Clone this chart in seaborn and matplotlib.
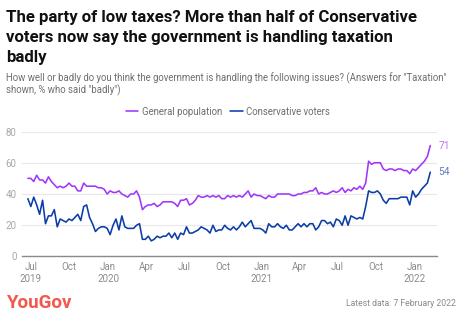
import matplotlib
matplotlib.use("Agg")
import matplotlib.pyplot as plt
import seaborn as sns
import pandas as pd

# Weekly survey waves, 24 June 2019 to 7 February 2022
start_date = "2019-06-24"
n_waves = 138

general_population = [
    50, 50, 48, 52, 49, 49, 47, 51, 48, 46,
    44, 45, 44, 45, 47, 45, 45, 42, 42, 47,
    45, 45, 45, 45, 44, 44, 43, 40, 42, 41,
    41, 42, 40, 39, 38, 40, 40, 42, 38, 30,
    32, 33, 33, 34, 32, 33, 35, 35, 35, 35,
    34, 32, 36, 36, 37, 33, 34, 36, 39, 38,
    38, 39, 38, 39, 38, 39, 37, 37, 39, 38,
    39, 38, 39, 38, 40, 42, 38, 40, 39, 39,
    38, 37, 39, 38, 38, 40, 40, 40, 40, 40,
    39, 39, 40, 40, 41, 41, 42, 42, 44, 40,
    41, 40, 40, 41, 42, 41, 42, 44, 41, 43,
    42, 44, 43, 45, 43, 47, 61, 59, 60, 60,
    60, 56, 55, 56, 56, 55, 56, 56, 55, 55,
    53, 56, 55, 57, 59, 61, 64, 71,
]

conservative_voters = [
    37, 32, 38, 33, 27, 36, 21, 26, 26, 30,
    19, 24, 23, 22, 24, 23, 25, 27, 23, 32,
    33, 25, 21, 16, 18, 19, 19, 18, 14, 20,
    24, 17, 26, 19, 18, 18, 18, 20, 21, 11,
    11, 13, 10, 11, 13, 12, 13, 13, 15, 12,
    15, 11, 15, 14, 19, 15, 15, 16, 17, 19,
    18, 17, 15, 20, 16, 17, 17, 20, 18, 17,
    19, 17, 19, 22, 19, 21, 23, 18, 18, 18,
    17, 15, 21, 19, 19, 21, 19, 18, 20, 17,
    17, 19, 21, 19, 21, 19, 21, 21, 17, 19,
    23, 23, 21, 22, 19, 24, 23, 20, 26, 20,
    26, 25, 24, 25, 24, 32, 42, 41, 41, 42,
    40, 36, 34, 37, 37, 37, 37, 38, 38, 38,
    33, 42, 38, 40, 43, 45, 47, 54,
]

series_names = ["General population", "Conservative voters"]
series_colors = ["#a136fb", "#0b3da6"]
label_colors = ["#b877fb", "#5b7cc6"]

tick_dates = ["2019-07-01", "2019-10-01", "2020-01-01", "2020-04-01",
              "2020-07-01", "2020-10-01", "2021-01-01", "2021-04-01",
              "2021-07-01", "2021-10-01", "2022-01-01"]
tick_labels = ["Jul\n2019", "Oct", "Jan\n2020", "Apr", "Jul", "Oct",
               "Jan\n2021", "Apr", "Jul", "Oct", "Jan\n2022"]
y_ticks = [0, 20, 40, 60, 80]

title = ("The party of low taxes? More than half of Conservative\n"
         "voters now say the government is handling taxation\n"
         "badly")
subtitle = ("How well or badly do you think the government is handling the following issues? (Answers for \"Taxation\"\n"
            "shown, % who said \"badly\")")
footer = "Latest data: 7 February 2022"

dates = pd.date_range(start_date, periods=n_waves, freq="7D")
df = pd.concat([
    pd.DataFrame({"date": dates, "value": general_population, "group": series_names[0]}),
    pd.DataFrame({"date": dates, "value": conservative_voters, "group": series_names[1]}),
])

sns.set_theme(style="white")
plt.rcParams["font.family"] = ["Roboto", "DejaVu Sans"]

fig = plt.figure(figsize=(4.70, 3.26), dpi=100)
ax = fig.add_axes([0.0468, 0.2132, 0.8830, 0.3834])

sns.lineplot(data=df, x="date", y="value", hue="group", hue_order=series_names,
             palette=series_colors, linewidth=1.15, ax=ax, legend=True)

ax.set_xlim(pd.Timestamp("2019-06-10"), pd.Timestamp("2022-02-23"))
ax.set_ylim(0, 80)
ax.set_yticks(y_ticks)
ax.set_xticks(pd.to_datetime(tick_dates))
ax.set_xticklabels(tick_labels)
ax.set_xlabel("")
ax.set_ylabel("")
ax.tick_params(axis="both", length=0, labelsize=7)
ax.tick_params(axis="y", pad=4, labelcolor="#a8a8a8")
ax.tick_params(axis="x", pad=4, labelcolor="#8c8c8c")
for lbl in ax.get_xticklabels():
    lbl.set_linespacing(1.3)
ax.grid(axis="y", color="#e8e8e8", linewidth=0.8)
ax.grid(axis="x", visible=False)
for side in ["top", "right", "left"]:
    ax.spines[side].set_visible(False)
ax.spines["bottom"].set_color("#8a8a8a")
ax.spines["bottom"].set_linewidth(1.0)

# value labels at the latest wave
for vals, col in zip([general_population, conservative_voters], label_colors):
    ax.annotate(f"{vals[-1]}", xy=(dates[-1], vals[-1]), xytext=(6, 0),
                textcoords="offset points", ha="left", va="center",
                fontsize=7.3, color=col)

sns.move_legend(ax, "center", bbox_to_anchor=(0.485, 0.657),
                bbox_transform=fig.transFigure, ncol=2, frameon=False,
                title=None, fontsize=6.9, handlelength=1.3, handletextpad=0.35,
                columnspacing=0.9, labelcolor="#6e6e6e")

fig.text(0.0128, 0.968, title, ha="left", va="top", fontsize=12.1,
         fontweight="bold", color="#111111", linespacing=1.38)
fig.text(0.0128, 0.778, subtitle, ha="left", va="top", fontsize=6.9,
         color="#6f6f6f", linespacing=1.12)
fig.text(0.0128, 0.07, "YouGov", ha="left", va="center", fontsize=13.5,
         fontweight="bold", color="#f4574c")
fig.text(0.970, 0.07, footer, ha="right", va="center", fontsize=6.2,
         color="#8a8a8a")

fig.savefig("out.png", dpi=100)
